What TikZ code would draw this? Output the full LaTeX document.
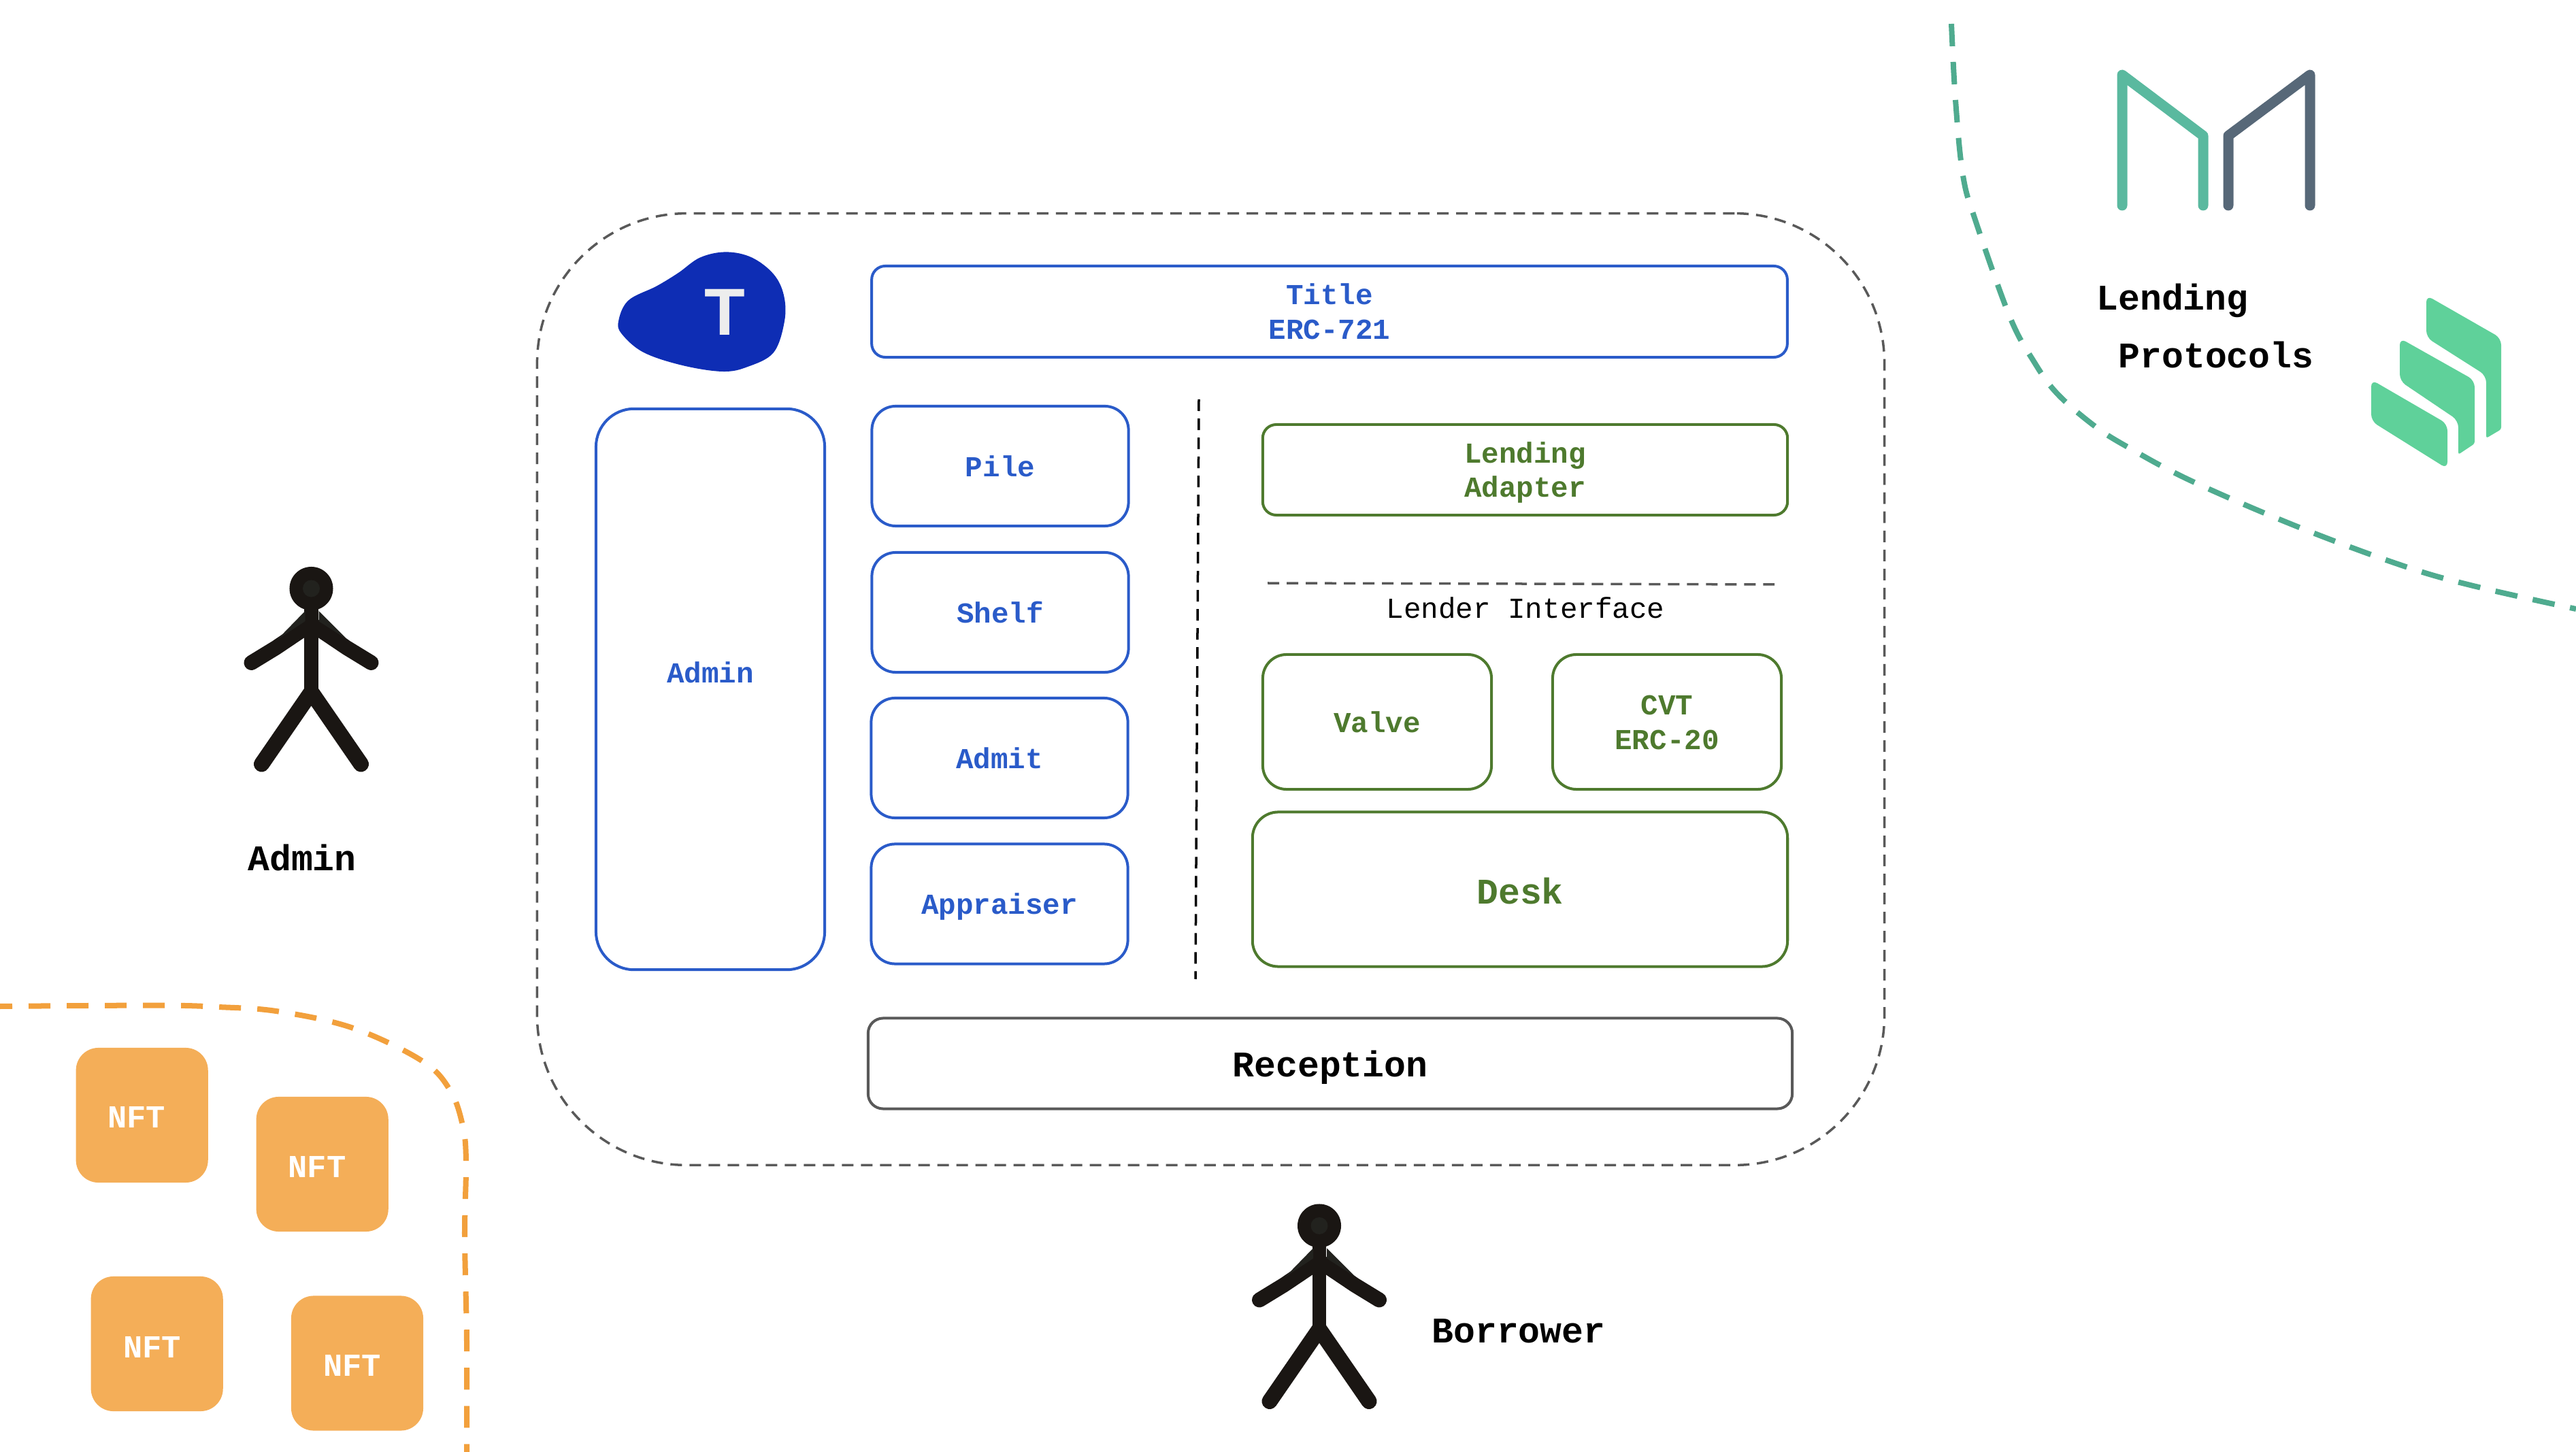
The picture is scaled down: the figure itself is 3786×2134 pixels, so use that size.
\documentclass[tikz,border=0pt]{standalone}
\usepackage{fontspec}
\setmainfont{Liberation Mono}
\newfontfamily\logofont{Liberation Sans}
\definecolor{cblue}{HTML}{2A5BC9}
\definecolor{cgreen}{HTML}{4E7A2E}
\definecolor{cgray}{HTML}{595959}
\definecolor{cdash}{HTML}{F2A03C}
\definecolor{cnft}{HTML}{F4AE58}
\definecolor{cteal}{HTML}{4FAB8F}
\definecolor{cmk}{HTML}{5AB99F}
\definecolor{cmg}{HTML}{576878}
\definecolor{ccomp}{HTML}{5FD19A}
\definecolor{cblob}{HTML}{0E2DB4}
\definecolor{cman}{HTML}{1A1613}
\definecolor{cmanb}{HTML}{22221E}
\newcommand{\smstrut}{\rule[-2.85pt]{0pt}{14.3pt}}
\newcommand{\lgstrut}{\rule[-0.6pt]{0pt}{13.6pt}}
\newcommand{\rcstrut}{\rule[-3.1pt]{0pt}{17.5pt}}
\tikzset{
  smalltxt/.style={font=\fontsize{12.1}{14.3}\selectfont\bfseries},
  bigtxt/.style={font=\fontsize{15.1}{18}\selectfont\bfseries},
  basebox/.style={draw,line width=.04cm,inner sep=0pt,align=center,fill=white},
  bluebox/.style={basebox,draw=cblue,text=cblue,smalltxt},
  greenbox/.style={basebox,draw=cgreen,text=cgreen,smalltxt},
  nftbox/.style={fill=cnft,inner sep=0pt,minimum width=1.94cm,minimum height=1.98cm,rounded corners=.33cm},
  nfttxt/.style={text=white,anchor=base,font=\fontsize{13.4}{16}\selectfont\bfseries,inner sep=0pt},
  freetxt/.style={anchor=base,inner sep=0pt,bigtxt},
  stickman/.pic={
    \draw[line width=.2cm,line cap=round,cman] (0,30) -- (0,152);
    \draw[line width=.22cm,line cap=round,line join=round,cman] (-88,109) -- (-52,87) -- (0,52) -- (52,87) -- (88,109);
    \draw[line width=.23cm,line cap=round,line join=round,cman] (-73,258) -- (0,152) -- (73,258);
    \fill[cmanb] (-9,33) -- (-50,75) -- (-9,48) -- cycle;
    \fill[cmanb] (11,33) -- (53,75) -- (11,48) -- cycle;
    \fill[cman] (0,0) circle (.32cm);
    \fill[cmanb] (0,0) circle (.125cm);
  }
}
\begin{document}
\begin{tikzpicture}[x=.01cm,y=-.01cm]
\useasboundingbox (0,0) rectangle (3786,2134);
% outer frame
\node[draw=cgray,line width=.035cm,dash pattern=on .17cm off .11cm,inner sep=0pt,minimum width=19.79cm,minimum height=13.98cm,rounded corners=2.2cm] (outer) at (1779.5,1013) {};
% blob
\fill[cblob] plot[smooth cycle,tension=.6] coordinates {(1067,370.4)(1105,378.5)(1137,403)(1152,434)(1153,472)(1137,518)(1099,539)(1062,546)(1003,537)(946,518)(914,491)(909,472)(923.5,441.6)(965,420.5)(997,401)(1029,378.5)};
\node[text=black!7,inner sep=0pt,font=\fontsize{27.8}{30}\selectfont\logofont\bfseries] (tlogo) at (1065,459) {T};
% blue column
\node[bluebox,minimum width=13.45cm,minimum height=1.34cm,rounded corners=.2cm] (title) at (1954,458) {Title\smstrut\\ERC-721\smstrut};
\node[bluebox,minimum width=3.36cm,minimum height=8.24cm,rounded corners=.56cm] (adminbox) at (1044,1013) {};
\node[text=cblue,smalltxt,inner sep=0pt] (admintxt) at ([yshift=.25cm]adminbox.center) {Admin\smstrut};
\node[bluebox,minimum width=3.77cm,minimum height=1.76cm,rounded corners=.35cm] (pile) at (1470,685) {Pile\smstrut};
\node[bluebox,minimum width=3.77cm,minimum height=1.76cm,rounded corners=.35cm] (shelf) at (1470,900) {Shelf\smstrut};
\node[bluebox,minimum width=3.77cm,minimum height=1.76cm,rounded corners=.35cm] (admit) at (1469,1114) {Admit\smstrut};
\node[bluebox,minimum width=3.77cm,minimum height=1.76cm,rounded corners=.35cm] (appraiser) at (1469,1328.5) {Appraiser\smstrut};
% separator
\draw[line width=.035cm,dash pattern=on .17cm off .11cm] (1762,587) -- (1757,1439);
% green column
\node[greenbox,minimum width=7.71cm,minimum height=1.33cm,rounded corners=.2cm] (adapter) at (2241.5,690.5) {Lending\smstrut\\Adapter\smstrut};
\draw[line width=.035cm,cgray,dash pattern=on .17cm off .11cm] (1863,857) -- (2608,859);
\node[inner sep=0pt,font=\fontsize{12.1}{14.5}\selectfont] (lender) at (2242,893) {Lender Interface\smstrut};
\node[greenbox,minimum width=3.36cm,minimum height=1.98cm,rounded corners=.35cm] (valve) at (2024,1061) {Valve\smstrut};
\node[greenbox,minimum width=3.36cm,minimum height=1.98cm,rounded corners=.35cm] (cvt) at (2450,1061) {CVT\smstrut\\ERC-20\smstrut};
\node[basebox,draw=cgreen,text=cgreen,bigtxt,minimum width=7.86cm,minimum height=2.27cm,rounded corners=.38cm] (desk) at (2234,1307) {Desk\lgstrut};
% reception
\node[basebox,draw=cgray,text=black,bigtxt,minimum width=13.575cm,minimum height=1.33cm,rounded corners=.22cm] (reception) at (1955,1563) {Reception\rcstrut};
% people
\pic at (457.5,865) {stickman};
\pic at (1939,1801.5) {stickman};
\node[freetxt] (adminlabel) at (444,1280) {Admin};
\node[freetxt] (borrower) at (2232,1973) {Borrower};
% NFT region
\draw[cdash,line width=.08cm,dash pattern=on .32cm off .24cm,dash phase=.14cm] plot[smooth,tension=.6] coordinates {(0,1479)(229.6,1477.6)(321,1480)(409,1486.5)(519,1511)(620,1559)(661,1601.5)(679.5,1652)(685,1705.5)(683,1816)(686,1971)(686,2134)(686,2180)};
\node[nftbox] (n1) at (208.7,1639) {};
\node[nftbox] (n2) at (473.7,1711) {};
\node[nftbox] (n3) at (230.7,1975) {};
\node[nftbox] (n4) at (525,2003.5) {};
\node[nfttxt] (n1t) at (200.6,1657) {NFT};
\node[nfttxt] (n2t) at (466,1730) {NFT};
\node[nfttxt] (n3t) at (223.6,1995) {NFT};
\node[nfttxt] (n4t) at (517.5,2022) {NFT};
% lending region
\draw[cteal,line width=.08cm,dash pattern=on .33cm off .23cm] plot[smooth,tension=.6] coordinates {(2868,35)(2874,147)(2885,258)(2904,326)(2954,466)(2989,531)(3023,578)(3077,625)(3127,657)(3221,707)(3379,775)(3536,833)(3643,863)(3786,895)};
\draw[cmk,line width=.15cm,line cap=round,line join=round] (3119,302) -- (3119,110) -- (3238,199.5) -- (3238,302);
\draw[cmg,line width=.15cm,line cap=round,line join=round] (3275,302) -- (3275,199.5) -- (3395,110) -- (3395,302);
\fill[ccomp,rounded corners=.1cm] (3485,558) -- (3597,623) -- (3597,689) -- (3485,619) -- cycle;
\fill[ccomp,rounded corners=.1cm] (3527,497) -- (3637,559) [rounded corners=.03cm] -- (3637,652) -- (3613,668) [rounded corners=.1cm] -- (3613,618) -- (3527,560) -- cycle;
\fill[ccomp,rounded corners=.1cm] (3566,434) -- (3676,497) [rounded corners=.03cm] -- (3676,631) -- (3654,644) [rounded corners=.1cm] -- (3654,552) -- (3566,496) -- cycle;
\node[freetxt] (lendingt) at (3193,456) {Lending};
\node[freetxt] (protocols) at (3257,541) {Protocols};
\end{tikzpicture}
\end{document}
